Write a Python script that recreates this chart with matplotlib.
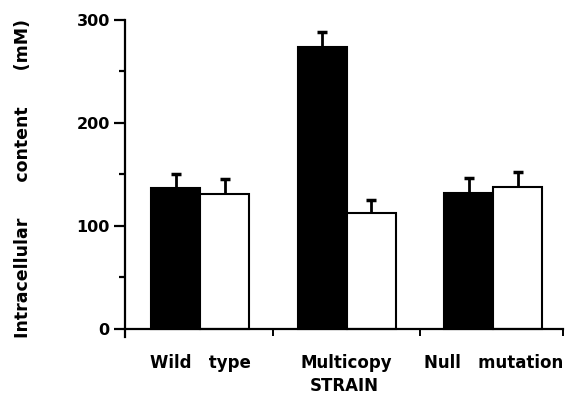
import matplotlib
matplotlib.use('Agg')
import matplotlib.pyplot as plt
import numpy as np

plt.rcParams['font.family'] = ['DejaVu Sans']
plt.rcParams['font.weight'] = 'bold'

# ── Dados ─────────────────────────────────────────────────────────────────────
strains   = ['Wild   type', 'Multicopy', 'Null   mutation']
black_val = [137, 274, 132]
black_top = [150, 288, 146]   # topo da barra de erro
white_val = [131, 112, 138]
white_top = [145, 125, 152]

x = np.arange(len(strains))
w = 0.335
black_err = np.array(black_top) - np.array(black_val)
white_err = np.array(white_top) - np.array(white_val)

fig = plt.figure(figsize=(5.66, 4.01), dpi=100)
ax = fig.add_axes([0.221, 0.160, 0.774, 0.790])

ax.bar(x - w/2, black_val, w, color='black', edgecolor='black', linewidth=1.5, zorder=2)
ax.bar(x + w/2, white_val, w, color='white', edgecolor='black', linewidth=1.5, zorder=2)

# barras de erro só para cima (sem cap inferior)
for xs, vals, errs in [(x - w/2, black_val, black_err), (x + w/2, white_val, white_err)]:
    eb = ax.errorbar(xs, vals, yerr=[np.zeros(len(xs)), errs], fmt='none',
                     ecolor='black', elinewidth=2, capsize=3.5, capthick=2.5, zorder=3)
    eb[1][0].set_visible(False)

ax.set_xlim(-0.512, 2.478)
ax.set_ylim(-8, 300)
ax.spines['top'].set_visible(False)
ax.spines['right'].set_visible(False)
ax.spines['bottom'].set_position(('data', 0))
ax.spines['left'].set_bounds(-8, 300)
for s in ('left', 'bottom'):
    ax.spines[s].set_linewidth(1.6)

ax.set_yticks([0, 100, 200, 300])
ax.set_yticks([50, 150, 250], minor=True)
ax.tick_params(axis='y', which='major', length=8, width=1.6, labelsize=11.5, pad=3)
ax.tick_params(axis='y', which='minor', length=4, width=1.6)

ax.set_xticks([0.5, 1.5, 2.478])
ax.set_xticklabels([])
ax.set_xticks(x, minor=True)
ax.set_xticklabels(strains, minor=True, fontsize=12, fontweight='bold')
ax.tick_params(axis='x', which='major', length=5, width=1.4, direction='out')
ax.tick_params(axis='x', which='minor', length=0, pad=18)

ax.set_xlabel('STRAIN', fontsize=12, fontweight='bold', labelpad=4)
ax.set_ylabel('Intracellular      content      (mM)', fontsize=12.5, fontweight='bold', labelpad=32)

plt.savefig('out.png', dpi=100)
plt.close()
